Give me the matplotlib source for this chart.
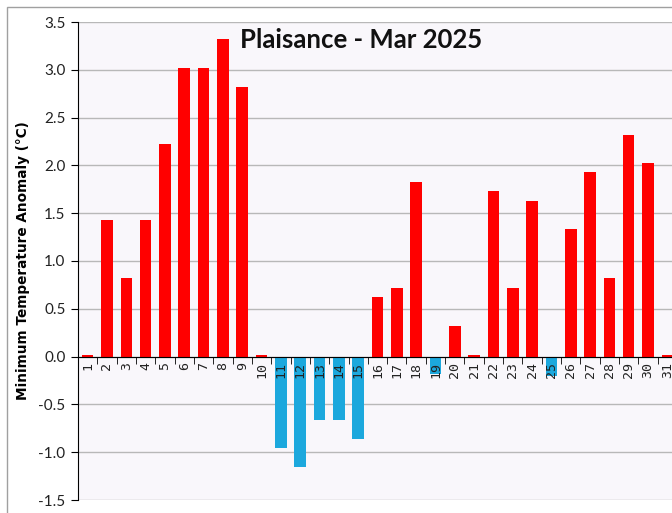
import numpy as np
import matplotlib.pyplot as plt
from matplotlib.patches import Rectangle

# Plaisance - Mar 2025, daily minimum temperature anomaly
days = list(range(1, 32))
anomaly = [0.02, 1.43, 0.82, 1.43, 2.22, 3.02, 3.02, 3.32, 2.82, 0.02,
           -0.96, -1.16, -0.66, -0.66, -0.86, 0.62, 0.72, 1.83, -0.18, 0.32,
           0.02, 1.73, 0.72, 1.63, -0.20, 1.33, 1.93, 0.82, 2.32, 2.03, 0.02]
y_ticks = [-1.5, -1.0, -0.5, 0.0, 0.5, 1.0, 1.5, 2.0, 2.5, 3.0, 3.5]

W, H = 672, 513
fig = plt.figure(figsize=(W / 100, H / 100), dpi=100)
# outer chart frame
fig.patches.append(Rectangle((7 / W, -0.1), 1.2, 1 - 7 / H + 0.1,
                             transform=fig.transFigure, fill=False,
                             edgecolor="#a0a0a0", lw=1.0))

ax = fig.add_axes([78 / W, (H - 500) / H, 599 / W, 478 / H])
ax.set_facecolor("#f9f7fb")

x = np.arange(len(days))
cols = ["#ff0000" if v >= 0 else "#1ca8dd" for v in anomaly]
ax.bar(x, anomaly, width=0.6, color=cols, zorder=2)

ax.set_xlim(-0.5, len(days) - 0.5)
ax.set_ylim(-1.5, 3.5)
ax.set_yticks(y_ticks)
ax.set_yticklabels([f"{v:.1f}" for v in y_ticks], fontsize=11, family="Lato",
                   color="#222222")
ax.grid(axis="y", color="#b8b8b8", lw=1.0)
ax.yaxis.set_zorder(0.5)

for s in ["top", "right"]:
    ax.spines[s].set_visible(False)
ax.spines["left"].set_color("black")
ax.spines["left"].set_zorder(3)
ax.spines["bottom"].set_position(("data", 0))
ax.spines["bottom"].set_color("black")
ax.spines["bottom"].set_zorder(3)
ax.tick_params(axis="y", direction="out", length=5, color="black", pad=4)

ax.set_xticks(x)
ax.set_xticklabels([str(d) for d in days], rotation=90, fontsize=9.5,
                   family="DejaVu Sans Mono", color="#222222")
ax.set_xticks(np.arange(-0.5, len(days)), minor=True)
ax.tick_params(axis="x", which="major", length=0, pad=4)
ax.tick_params(axis="x", which="minor", direction="out", length=5, color="black")
ax.xaxis.set_zorder(3)

ax.set_ylabel("Minimum Temperature Anomaly (\u00b0C)", fontsize=9.8,
              fontweight="bold", family="DejaVu Sans")
ax.yaxis.set_label_coords(-48 / 599, 0.5)

fig.text(361 / W, 1 - 40 / H, "Plaisance - Mar 2025", ha="center", va="center",
         fontsize=18.5, fontweight="bold", family="Lato", color="#111111")

fig.savefig("out.png", dpi=100)
